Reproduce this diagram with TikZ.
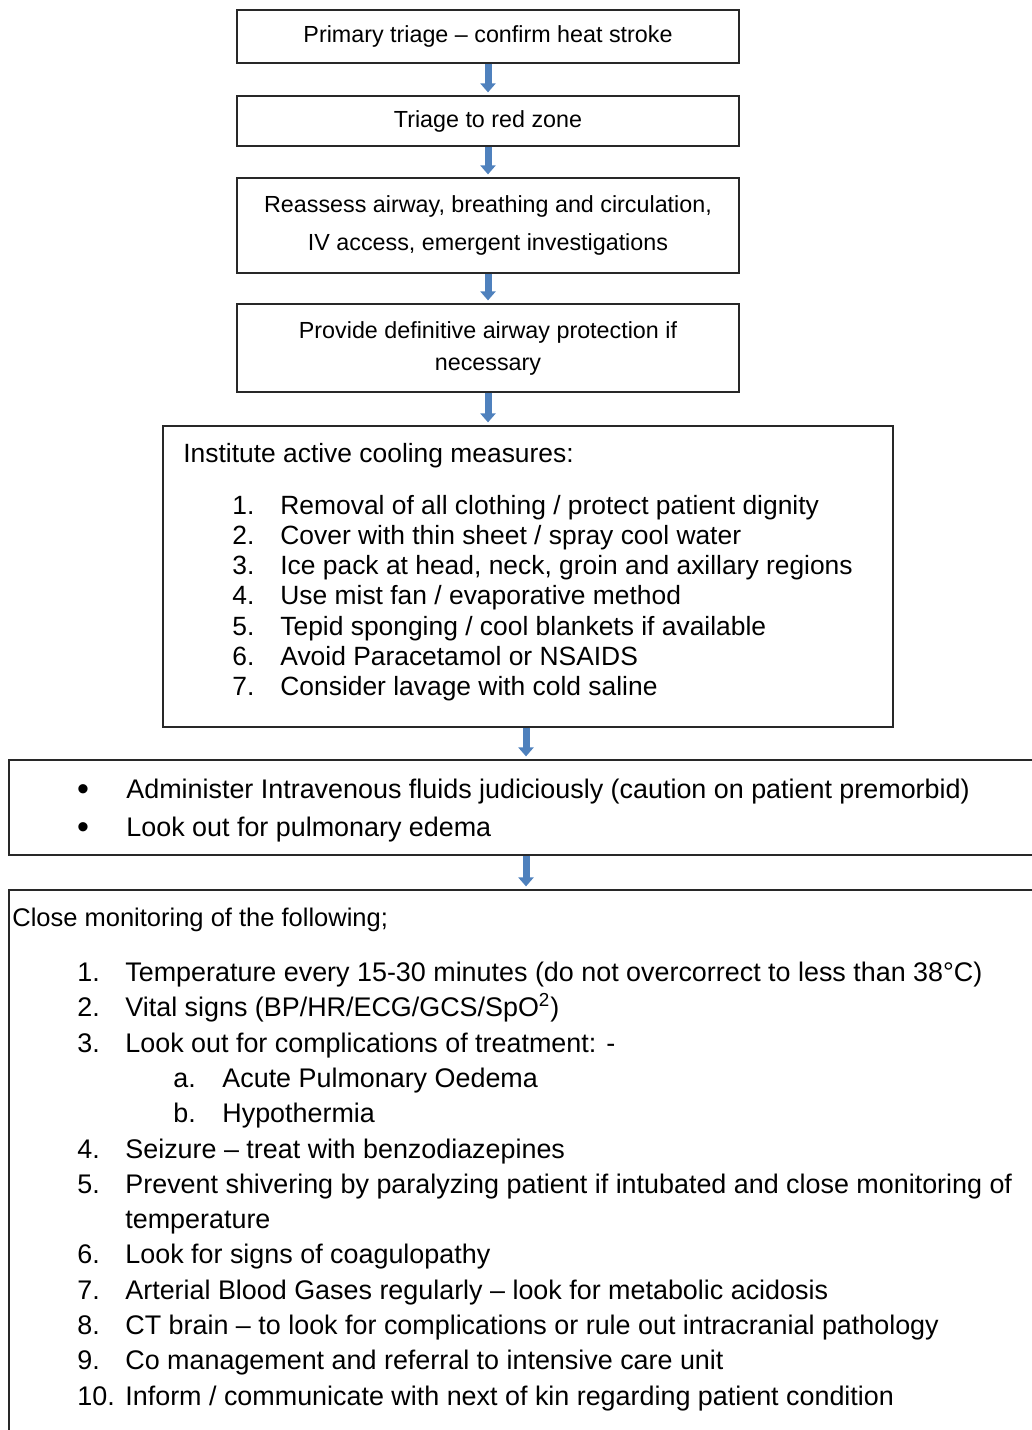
\documentclass[tikz,border=0pt]{standalone}
\usepackage{fontspec}
\setmainfont{Liberation Sans}
\usetikzlibrary{arrows.meta}
\definecolor{arrowblue}{RGB}{79,129,189}
\definecolor{boxgray}{RGB}{40,40,40}

\newcommand{\stepfont}{\fontsize{11.65}{14}\selectfont}
\newcommand{\listfont}{\fontsize{13.2}{15}\selectfont}
\newcommand{\monfont}{\fontsize{13.45}{15}\selectfont}

\begin{document}
\begin{tikzpicture}[x=0.5pt, y=-0.5pt,
    box/.style={draw=boxgray, line width=0.6pt, inner sep=0pt, align=center},
    flowarrow/.style={arrowblue, line width=3.5pt, -{Triangle[width=7.5pt, length=4.5pt]}, shorten >=1.5pt},
    listline/.style={anchor=base west, inner sep=0pt, font=\listfont},
    monline/.style={listline, font=\monfont},
    dot/.style={anchor=center, inner sep=0pt, font=\fontsize{17}{17}\selectfont}]
    \useasboundingbox (0,0) rectangle (1032,1430);
    \clip (0,0) rectangle (1032,1430);

    % Triage steps
    \node[box, minimum width=251pt, minimum height=26.5pt, font=\stepfont] (primary) at (488,36.5) {Primary triage – confirm heat stroke};
    \node[box, minimum width=251pt, minimum height=25pt, font=\stepfont] (redzone) at (488,121) {Triage to red zone};
    \node[box, minimum width=251pt, minimum height=47.5pt, font=\fontsize{11.65}{19}\selectfont] (reassess) at (488,225.5) {Reassess airway, breathing and circulation,\\ IV access, emergent investigations};
    \node[box, minimum width=251pt, minimum height=44pt, font=\fontsize{11.65}{16}\selectfont] (airway) at (488,348) {Provide definitive airway protection if\\necessary};

    % Cooling
    \node[box, minimum width=365pt, minimum height=150.5pt] (cooling) at (528,576.5) {};
    \node[listline] (coolhead) at (183,462) {Institute active cooling measures:};
    \foreach \txt [count=\i] in {{Removal of all clothing / protect patient dignity},
        {Cover with thin sheet / spray cool water},
        {Ice pack at head, neck, groin and axillary regions},
        {Use mist fan / evaporative method},
        {Tepid sponging / cool blankets if available},
        {Avoid Paracetamol or NSAIDS},
        {Consider lavage with cold saline}} {
        \node[listline] (coolnum\i) at (232,{483.7+30.3*\i}) {\i.};
        \node[listline] (cool\i) at (280,{483.7+30.3*\i}) {\txt};
    }

    % Fluids
    \node[box, minimum width=517pt, minimum height=47.5pt] (fluids) at (526,807.5) {};
    \node[dot] (fluiddot1) at (83,793) {\textbullet};
    \node[monline] (fluid1) at (126,798) {Administer Intravenous fluids judiciously (caution on patient premorbid)};
    \node[dot] (fluiddot2) at (83,831) {\textbullet};
    \node[monline] (fluid2) at (126,836) {Look out for pulmonary edema};

    % Monitoring
    \node[box, minimum width=517pt, minimum height=275pt] (monitor) at (526,1165) {};
    \node[monline, font=\fontsize{12.75}{15}\selectfont] (monhead) at (12,926) {Close monitoring of the following;};
    \node[monline] (mon1n) at (77,981.5) {1.};
    \node[monline] (mon1) at (125,981.5) {Temperature every 15-30 minutes (do not overcorrect to less than 38°C)};
    \node[monline] (mon2n) at (77,1016.8) {2.};
    \node[monline] (mon2) at (125,1016.8) {Vital signs (BP/HR/ECG/GCS/SpO\textsuperscript{2})};
    \node[monline] (mon3n) at (77,1052.1) {3.};
    \node[monline] (mon3) at (125,1052.1) {Look out for complications of treatment: -};
    \node[monline] (mon3an) at (173,1087.4) {a.};
    \node[monline] (mon3a) at (222,1087.4) {Acute Pulmonary Oedema};
    \node[monline] (mon3bn) at (173,1122.7) {b.};
    \node[monline] (mon3b) at (222,1122.7) {Hypothermia};
    \node[monline] (mon4n) at (77,1158) {4.};
    \node[monline] (mon4) at (125,1158) {Seizure – treat with benzodiazepines};
    \node[monline] (mon5n) at (77,1193.3) {5.};
    \node[monline] (mon5) at (125,1193.3) {Prevent shivering by paralyzing patient if intubated and close monitoring of};
    \node[monline] (mon5b) at (125,1228.6) {temperature};
    \node[monline] (mon6n) at (77,1263.9) {6.};
    \node[monline] (mon6) at (125,1263.9) {Look for signs of coagulopathy};
    \node[monline] (mon7n) at (77,1299.2) {7.};
    \node[monline] (mon7) at (125,1299.2) {Arterial Blood Gases regularly – look for metabolic acidosis};
    \node[monline] (mon8n) at (77,1334.5) {8.};
    \node[monline] (mon8) at (125,1334.5) {CT brain – to look for complications or rule out intracranial pathology};
    \node[monline] (mon9n) at (77,1369.8) {9.};
    \node[monline] (mon9) at (125,1369.8) {Co management and referral to intensive care unit};
    \node[monline] (mon10n) at (77,1405.1) {10.};
    \node[monline] (mon10) at (125,1405.1) {Inform / communicate with next of kin regarding patient condition};

    % Arrows
    \draw[flowarrow] (primary) -- (redzone);
    \draw[flowarrow] (redzone) -- (reassess);
    \draw[flowarrow] (reassess) -- (airway);
    \draw[flowarrow] (airway.south) -- (airway.south |- cooling.north);
    \draw[flowarrow] (fluids.north |- cooling.south) -- (fluids.north);
    \draw[flowarrow] (fluids) -- (monitor);
\end{tikzpicture}
\end{document}
